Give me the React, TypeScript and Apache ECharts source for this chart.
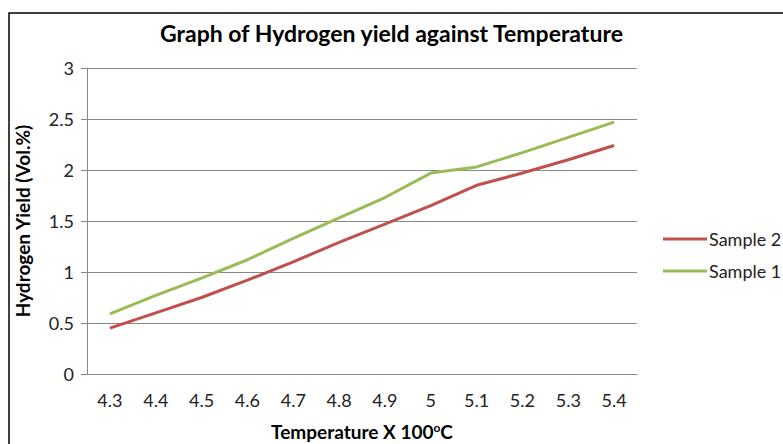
import React, { useEffect, useRef } from "react";
import * as echarts from "echarts";

const categories = ["4.3", "4.4", "4.5", "4.6", "4.7", "4.8", "4.9", "5", "5.1", "5.2", "5.3", "5.4"];
const sample2 = [0.45, 0.6, 0.75, 0.92, 1.1, 1.29, 1.47, 1.65, 1.85, 1.97, 2.1, 2.24];
const sample1 = [0.59, 0.77, 0.94, 1.12, 1.33, 1.53, 1.73, 1.97, 2.03, 2.17, 2.32, 2.47];

const FONT = "Lato";

export default function App() {
  const ref = useRef<HTMLDivElement>(null);
  useEffect(() => {
    document.body.style.margin = "0";
    const chart = echarts.init(ref.current!, null, { renderer: "svg" });
    chart.setOption({
      animation: false,
      backgroundColor: "#ffffff",
      textStyle: { fontFamily: FONT },
      title: {
        text: "Graph of Hydrogen yield against Temperature",
        left: "center",
        top: 16,
        textStyle: { fontFamily: FONT, fontSize: 23, fontWeight: "bold", color: "#000" },
      },
      graphic: [
        {
          type: "rect",
          shape: { x: 9, y: 13, width: 800, height: 500 },
          style: { fill: "none", stroke: "#000", lineWidth: 1.5 },
          silent: true,
          z: -1,
        },
      ],
      legend: {
        orient: "vertical",
        left: 663,
        top: 230,
        padding: 0,
        icon: "rect",
        itemWidth: 44,
        itemHeight: 3,
        itemGap: 14,
        textStyle: { fontFamily: FONT, fontSize: 18, color: "#222", padding: [0, 0, 0, -3] },
        data: ["Sample 2", "Sample 1"],
      },
      grid: { left: 87, right: 146, top: 68, bottom: 70, containLabel: false, outerBoundsMode: "none" },
      xAxis: {
        type: "category",
        data: categories,
        boundaryGap: true,
        axisLine: { lineStyle: { color: "#888", width: 1 } },
        axisTick: { show: false },
        axisLabel: { color: "#222", fontSize: 18, fontFamily: FONT, margin: 17 },
        name: "Temperature X 100{sup|o}C",
        nameLocation: "middle",
        nameGap: 47,
        nameTextStyle: {
          fontFamily: FONT,
          fontSize: 19,
          fontWeight: "bold",
          color: "#000",
          rich: {
            sup: { fontSize: 12, fontWeight: "bold", verticalAlign: "top", padding: [0, 0, 8, 0], fontFamily: FONT, color: "#000" },
          },
        },
      },
      yAxis: {
        type: "value",
        min: 0,
        max: 3,
        interval: 0.5,
        axisLine: { show: true, lineStyle: { color: "#888", width: 1 } },
        axisTick: { show: true, length: 6, lineStyle: { color: "#888" } },
        splitLine: { lineStyle: { color: "#888", width: 1 } },
        axisLabel: { color: "#222", fontSize: 18, fontFamily: FONT, margin: 13 },
        name: "Hydrogen Yield (Vol.%)",
        nameLocation: "middle",
        nameGap: 55,
        nameTextStyle: { fontFamily: FONT, fontSize: 19, fontWeight: "bold", color: "#000" },
      },
      series: [
        {
          name: "Sample 2",
          type: "line",
          data: sample2,
          symbol: "none",
          lineStyle: { color: "#C0504D", width: 3 },
          itemStyle: { color: "#C0504D" },
        },
        {
          name: "Sample 1",
          type: "line",
          data: sample1,
          symbol: "none",
          lineStyle: { color: "#9BBB59", width: 3 },
          itemStyle: { color: "#9BBB59" },
        },
      ],
    });
    return () => chart.dispose();
  }, []);
  return <div ref={ref} style={{ width: 783, height: 444 }} />;
}
